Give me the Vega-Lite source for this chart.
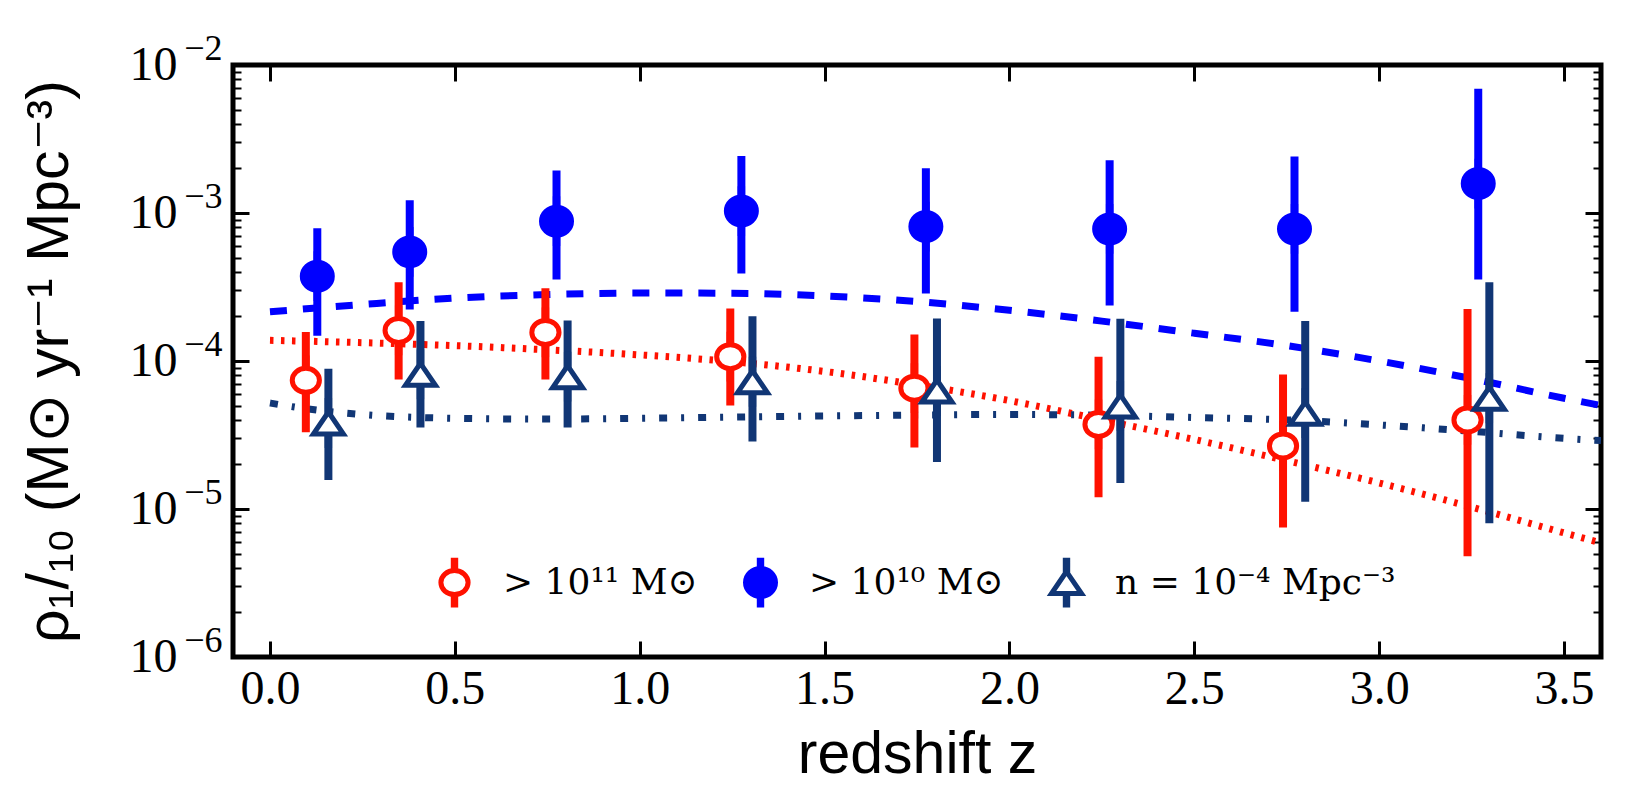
{
  "$schema": "https://vega.github.io/schema/vega-lite/v6.json",
  "width": 1368,
  "height": 592,
  "autosize": {"type": "none"},
  "padding": {"left": 233, "top": 65, "right": 37, "bottom": 146},
  "background": "white",
  "config": {
    "view": {"stroke": "black", "strokeWidth": 5},
    "axis": {"domain": false, "grid": false}
  },
  "datasets": {
    "points": [
      {"series": "m11", "z": 0.097, "v": 7.4e-5, "lo": 3.3e-5, "hi": 1.57e-4},
      {"series": "m11", "z": 0.348, "v": 1.61e-4, "lo": 7.5e-5, "hi": 3.4e-4},
      {"series": "m11", "z": 0.745, "v": 1.56e-4, "lo": 7.5e-5, "hi": 3.1e-4},
      {"series": "m11", "z": 1.245, "v": 1.07e-4, "lo": 5.0e-5, "hi": 2.26e-4},
      {"series": "m11", "z": 1.743, "v": 6.55e-5, "lo": 2.6e-5, "hi": 1.51e-4},
      {"series": "m11", "z": 2.241, "v": 3.73e-5, "lo": 1.2e-5, "hi": 1.07e-4},
      {"series": "m11", "z": 2.74, "v": 2.67e-5, "lo": 7.5e-6, "hi": 8.1e-5},
      {"series": "m11", "z": 3.239, "v": 4.0e-5, "lo": 4.8e-6, "hi": 2.25e-4},
      {"series": "m10", "z": 0.128, "v": 3.74e-4, "lo": 1.48e-4, "hi": 7.9e-4},
      {"series": "m10", "z": 0.378, "v": 5.46e-4, "lo": 2.23e-4, "hi": 1.22e-3},
      {"series": "m10", "z": 0.775, "v": 8.8e-4, "lo": 3.55e-4, "hi": 1.94e-3},
      {"series": "m10", "z": 1.275, "v": 1.03e-3, "lo": 3.9e-4, "hi": 2.43e-3},
      {"series": "m10", "z": 1.774, "v": 8.1e-4, "lo": 2.86e-4, "hi": 2.01e-3},
      {"series": "m10", "z": 2.271, "v": 7.8e-4, "lo": 2.37e-4, "hi": 2.27e-3},
      {"series": "m10", "z": 2.771, "v": 7.8e-4, "lo": 2.15e-4, "hi": 2.41e-3},
      {"series": "m10", "z": 3.268, "v": 1.58e-3, "lo": 3.55e-4, "hi": 6.9e-3},
      {"series": "n4", "z": 0.158, "v": 3.81e-5, "lo": 1.57e-5, "hi": 8.87e-5},
      {"series": "n4", "z": 0.407, "v": 8.13e-5, "lo": 3.55e-5, "hi": 1.86e-4},
      {"series": "n4", "z": 0.805, "v": 7.83e-5, "lo": 3.55e-5, "hi": 1.88e-4},
      {"series": "n4", "z": 1.305, "v": 7.24e-5, "lo": 2.86e-5, "hi": 2.01e-4},
      {"series": "n4", "z": 1.804, "v": 6.27e-5, "lo": 2.08e-5, "hi": 1.94e-4},
      {"series": "n4", "z": 2.30, "v": 4.97e-5, "lo": 1.5e-5, "hi": 1.93e-4},
      {"series": "n4", "z": 2.80, "v": 4.44e-5, "lo": 1.12e-5, "hi": 1.86e-4},
      {"series": "n4", "z": 3.298, "v": 5.6e-5, "lo": 8.0e-6, "hi": 3.4e-4}
    ],
    "fits": [
      {"fit": "m10", "z": 0.0, "v": 2.15e-4},
      {"fit": "m10", "z": 0.25, "v": 2.41e-4},
      {"fit": "m10", "z": 0.5, "v": 2.66e-4},
      {"fit": "m10", "z": 0.75, "v": 2.81e-4},
      {"fit": "m10", "z": 1.0, "v": 2.88e-4},
      {"fit": "m10", "z": 1.25, "v": 2.87e-4},
      {"fit": "m10", "z": 1.5, "v": 2.75e-4},
      {"fit": "m10", "z": 1.75, "v": 2.52e-4},
      {"fit": "m10", "z": 2.0, "v": 2.2e-4},
      {"fit": "m10", "z": 2.25, "v": 1.86e-4},
      {"fit": "m10", "z": 2.5, "v": 1.54e-4},
      {"fit": "m10", "z": 2.75, "v": 1.27e-4},
      {"fit": "m10", "z": 3.0, "v": 1.0e-4},
      {"fit": "m10", "z": 3.25, "v": 7.6e-5},
      {"fit": "m10", "z": 3.5, "v": 5.6e-5},
      {"fit": "m10", "z": 3.6, "v": 5.0e-5},
      {"fit": "m11", "z": 0.0, "v": 1.38e-4},
      {"fit": "m11", "z": 0.25, "v": 1.33e-4},
      {"fit": "m11", "z": 0.5, "v": 1.27e-4},
      {"fit": "m11", "z": 0.75, "v": 1.19e-4},
      {"fit": "m11", "z": 1.0, "v": 1.1e-4},
      {"fit": "m11", "z": 1.25, "v": 9.9e-5},
      {"fit": "m11", "z": 1.5, "v": 8.5e-5},
      {"fit": "m11", "z": 1.75, "v": 6.9e-5},
      {"fit": "m11", "z": 2.0, "v": 5.4e-5},
      {"fit": "m11", "z": 2.25, "v": 4.0e-5},
      {"fit": "m11", "z": 2.5, "v": 2.95e-5},
      {"fit": "m11", "z": 2.75, "v": 2.12e-5},
      {"fit": "m11", "z": 3.0, "v": 1.5e-5},
      {"fit": "m11", "z": 3.25, "v": 1.03e-5},
      {"fit": "m11", "z": 3.5, "v": 6.9e-6},
      {"fit": "m11", "z": 3.6, "v": 5.9e-6},
      {"fit": "n4", "z": 0.0, "v": 5.2e-5},
      {"fit": "n4", "z": 0.1, "v": 4.75e-5},
      {"fit": "n4", "z": 0.25, "v": 4.35e-5},
      {"fit": "n4", "z": 0.5, "v": 4.1e-5},
      {"fit": "n4", "z": 0.75, "v": 4.05e-5},
      {"fit": "n4", "z": 1.0, "v": 4.1e-5},
      {"fit": "n4", "z": 1.5, "v": 4.25e-5},
      {"fit": "n4", "z": 2.0, "v": 4.35e-5},
      {"fit": "n4", "z": 2.25, "v": 4.3e-5},
      {"fit": "n4", "z": 2.5, "v": 4.15e-5},
      {"fit": "n4", "z": 2.75, "v": 4.0e-5},
      {"fit": "n4", "z": 3.0, "v": 3.7e-5},
      {"fit": "n4", "z": 3.25, "v": 3.35e-5},
      {"fit": "n4", "z": 3.5, "v": 3.0e-5},
      {"fit": "n4", "z": 3.6, "v": 2.9e-5}
    ]
  },
  "resolve": {"axis": {"x": "independent", "y": "independent"}},
  "layer": [
    {
      "data": {"name": "fits"},
      "transform": [{"filter": "datum.fit == 'm11'"}],
      "mark": {"type": "line", "color": "#ff1100", "strokeWidth": 7, "strokeDash": [3.5, 7.5], "strokeCap": "butt", "interpolate": "monotone", "clip": true},
      "encoding": {
        "x": {
          "field": "z", "type": "quantitative",
          "scale": {"domain": [-0.1, 3.6], "nice": false, "zero": false},
          "axis": {
            "orient": "bottom",
            "values": [0, 0.5, 1, 1.5, 2, 2.5, 3, 3.5],
            "format": ".1f",
            "tickSize": -16, "tickWidth": 3, "tickColor": "black",
            "labelFont": "Liberation Serif", "labelFontSize": 48, "labelColor": "black",
            "labelPadding": 24, "labelFlush": false, "labelOverlap": false,
            "title": "redshift z",
            "titleFont": "Liberation Sans", "titleFontSize": 59, "titleFontWeight": "normal", "titleColor": "black",
            "titlePadding": 12
          }
        },
        "y": {
          "field": "v", "type": "quantitative",
          "scale": {"type": "log", "domain": [1e-6, 1e-2], "nice": false},
          "axis": {
            "orient": "left",
            "values": [1e-6, 2e-6, 3e-6, 4e-6, 5e-6, 6e-6, 7e-6, 8e-6, 9e-6, 1e-5, 2e-5, 3e-5, 4e-5, 5e-5, 6e-5, 7e-5, 8e-5, 9e-5, 1e-4, 2e-4, 3e-4, 4e-4, 5e-4, 6e-4, 7e-4, 8e-4, 9e-4, 1e-3, 2e-3, 3e-3, 4e-3, 5e-3, 6e-3, 7e-3, 8e-3, 9e-3, 1e-2],
            "tickSize": {"condition": {"test": "datum.value == 0.01 || datum.value == 0.001 || datum.value == 0.0001 || datum.value == 0.00001 || datum.value == 0.000001", "value": -16}, "value": -8},
            "tickWidth": {"condition": {"test": "datum.value == 0.01 || datum.value == 0.001 || datum.value == 0.0001 || datum.value == 0.00001 || datum.value == 0.000001", "value": 3}, "value": 2},
            "tickColor": "black",
            "labelExpr": "(datum.value == 0.01 || datum.value == 0.001 || datum.value == 0.0001 || datum.value == 0.00001 || datum.value == 0.000001) ? '10' : ''",
            "labelFont": "Liberation Serif", "labelFontSize": 48, "labelColor": "black",
            "labelPadding": 72, "labelOverlap": false, "labelFlush": false,
            "title": "ρ₁/₁₀ (M⊙ yr⁻¹ Mpc⁻³)",
            "titleFont": "Liberation Sans", "titleFontSize": 59, "titleFontWeight": "normal", "titleColor": "black",
            "titlePadding": 50
          }
        }
      }
    },
    {
      "data": {"name": "fits"},
      "transform": [{"filter": "datum.fit == 'm10'"}],
      "mark": {"type": "line", "color": "#0000ff", "strokeWidth": 7, "strokeDash": [17, 16], "strokeCap": "butt", "interpolate": "monotone", "clip": true},
      "encoding": {
        "x": {
          "field": "z", "type": "quantitative",
          "axis": {
            "orient": "top",
            "values": [0, 0.5, 1, 1.5, 2, 2.5, 3, 3.5],
            "tickSize": -16, "tickWidth": 3, "tickColor": "black",
            "labels": false, "title": null
          }
        },
        "y": {
          "field": "v", "type": "quantitative",
          "axis": {
            "orient": "right",
            "values": [1e-6, 2e-6, 3e-6, 4e-6, 5e-6, 6e-6, 7e-6, 8e-6, 9e-6, 1e-5, 2e-5, 3e-5, 4e-5, 5e-5, 6e-5, 7e-5, 8e-5, 9e-5, 1e-4, 2e-4, 3e-4, 4e-4, 5e-4, 6e-4, 7e-4, 8e-4, 9e-4, 1e-3, 2e-3, 3e-3, 4e-3, 5e-3, 6e-3, 7e-3, 8e-3, 9e-3, 1e-2],
            "tickSize": {"condition": {"test": "datum.value == 0.01 || datum.value == 0.001 || datum.value == 0.0001 || datum.value == 0.00001 || datum.value == 0.000001", "value": -16}, "value": -8},
            "tickWidth": {"condition": {"test": "datum.value == 0.01 || datum.value == 0.001 || datum.value == 0.0001 || datum.value == 0.00001 || datum.value == 0.000001", "value": 3}, "value": 2},
            "tickColor": "black",
            "labels": false, "title": null
          }
        }
      }
    },
    {
      "data": {"name": "fits"},
      "transform": [{"filter": "datum.fit == 'n4'"}],
      "mark": {"type": "line", "color": "#113675", "strokeWidth": 7, "strokeDash": [8, 14, 3, 14], "strokeCap": "butt", "interpolate": "monotone", "clip": true},
      "encoding": {
        "x": {"field": "z", "type": "quantitative", "axis": null},
        "y": {
          "field": "v", "type": "quantitative",
          "axis": {
            "orient": "left",
            "values": [1e-6, 1e-5, 1e-4, 1e-3, 1e-2],
            "ticks": false, "tickSize": 0,
            "labelExpr": "datum.value == 0.01 ? '−2' : datum.value == 0.001 ? '−3' : datum.value == 0.0001 ? '−4' : datum.value == 0.00001 ? '−5' : '−6'",
            "labelFont": "Liberation Serif", "labelFontSize": 36, "labelColor": "black",
            "labelPadding": 11, "labelOffset": -17, "labelOverlap": false, "labelFlush": false,
            "title": null
          }
        }
      }
    },
    {
      "data": {"name": "points"},
      "mark": {"type": "rule", "strokeWidth": 8, "strokeCap": "butt"},
      "encoding": {
        "x": {"field": "z", "type": "quantitative", "axis": null},
        "y": {"field": "lo", "type": "quantitative", "axis": null},
        "y2": {"field": "hi"},
        "stroke": {
          "field": "series", "type": "nominal",
          "scale": {"domain": ["m11", "m10", "n4"], "range": ["#ff1100", "#0000ff", "#113675"]}
        }
      }
    },
    {
      "data": {"name": "points"},
      "mark": {"type": "point", "size": 1600, "strokeWidth": 5, "opacity": 1, "fillOpacity": 1, "strokeOpacity": 1, "strokeJoin": "miter"},
      "encoding": {
        "x": {"field": "z", "type": "quantitative", "axis": null},
        "y": {"field": "v", "type": "quantitative", "axis": null},
        "shape": {
          "field": "series", "type": "nominal",
          "scale": {"domain": ["m11", "m10", "n4"], "range": [
            "M-0.68,0 A0.68,0.6 0 1,1 0.68,0 A0.68,0.6 0 1,1 -0.68,0 Z M-0.06,-1.12 L0.06,-1.12 L0.06,-0.62 L-0.06,-0.62 Z M-0.06,0.62 L0.06,0.62 L0.06,1.12 L-0.06,1.12 Z",
            "M-0.75,0 A0.75,0.7 0 1,1 0.75,0 A0.75,0.7 0 1,1 -0.75,0 Z M-0.06,-1.12 L0.06,-1.12 L0.06,-0.7 L-0.06,-0.7 Z M-0.06,0.7 L0.06,0.7 L0.06,1.12 L-0.06,1.12 Z",
            "M0,-0.55 L0.75,0.55 L-0.75,0.55 Z M-0.06,-1.12 L0.06,-1.12 L0.06,-0.62 L-0.06,-0.62 Z M-0.06,0.62 L0.06,0.62 L0.06,1.12 L-0.06,1.12 Z"
          ]},
          "legend": {
            "orient": "none", "legendX": 199, "legendY": 495,
            "direction": "horizontal", "columns": 3, "padding": 0, "title": null,
            "columnPadding": 37, "labelOffset": 26,
            "labelFont": "DejaVu Serif", "labelFontSize": 36, "labelColor": "black", "labelLimit": 500,
            "labelExpr": "datum.value == 'm11' ? '> 10¹¹ M⊙' : datum.value == 'm10' ? '> 10¹⁰ M⊙' : 'n = 10⁻⁴ Mpc⁻³'",
            "symbolSize": 1600, "symbolStrokeWidth": 5
          }
        },
        "fill": {
          "field": "series", "type": "nominal",
          "scale": {"domain": ["m11", "m10", "n4"], "range": ["#ffffff", "#0000ff", "#ffffff"]},
          "legend": {
            "orient": "none", "legendX": 199, "legendY": 495,
            "direction": "horizontal", "columns": 3, "padding": 0, "title": null,
            "columnPadding": 37, "labelOffset": 26,
            "labelFont": "DejaVu Serif", "labelFontSize": 36, "labelColor": "black", "labelLimit": 500,
            "labelExpr": "datum.value == 'm11' ? '> 10¹¹ M⊙' : datum.value == 'm10' ? '> 10¹⁰ M⊙' : 'n = 10⁻⁴ Mpc⁻³'",
            "symbolSize": 1600, "symbolStrokeWidth": 5
          }
        },
        "stroke": {
          "field": "series", "type": "nominal",
          "scale": {"domain": ["m11", "m10", "n4"], "range": ["#ff1100", "#0000ff", "#113675"]},
          "legend": {
            "orient": "none", "legendX": 199, "legendY": 495,
            "direction": "horizontal", "columns": 3, "padding": 0, "title": null,
            "columnPadding": 37, "labelOffset": 26,
            "labelFont": "DejaVu Serif", "labelFontSize": 36, "labelColor": "black", "labelLimit": 500,
            "labelExpr": "datum.value == 'm11' ? '> 10¹¹ M⊙' : datum.value == 'm10' ? '> 10¹⁰ M⊙' : 'n = 10⁻⁴ Mpc⁻³'",
            "symbolSize": 1600, "symbolStrokeWidth": 5
          }
        }
      }
    }
  ]
}
